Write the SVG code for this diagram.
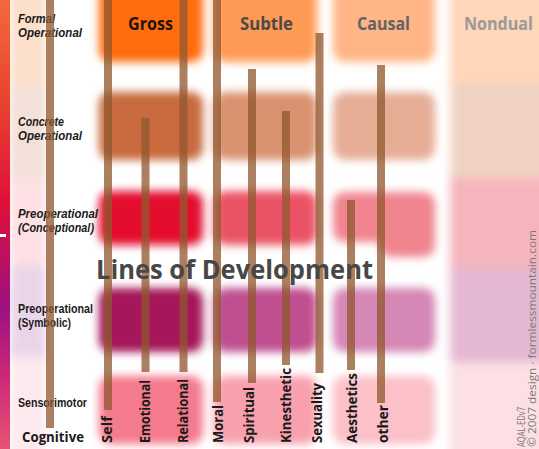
<svg xmlns="http://www.w3.org/2000/svg" width="539" height="449" viewBox="0 0 539 449">
<defs>
<filter id="blur" filterUnits="userSpaceOnUse" x="-30" y="-30" width="600" height="510"><feGaussianBlur stdDeviation="4"/></filter>
<filter id="blur2" filterUnits="userSpaceOnUse" x="-30" y="-30" width="600" height="510"><feGaussianBlur stdDeviation="5"/></filter>
<linearGradient id="strip" x1="0" y1="0" x2="0" y2="1">
<stop offset="0" stop-color="#f2683c"/>
<stop offset="0.22" stop-color="#e94430"/>
<stop offset="0.45" stop-color="#e0103a"/>
<stop offset="0.68" stop-color="#9c1080"/>
<stop offset="0.85" stop-color="#d02a78"/>
<stop offset="1" stop-color="#e65474"/>
</linearGradient>
<style>
.bar{fill:#90582f;opacity:0.76}
.hdr{font-family:"Open Sans","Liberation Sans",sans-serif;font-size:17px;font-weight:700}
.row{font-family:"Liberation Sans","Open Sans",sans-serif;font-size:12px;font-weight:700;fill:#1a1a1a}
.it{font-style:italic}
.lbl{font-family:"Open Sans","Liberation Sans",sans-serif;font-size:14px;font-weight:700;fill:#1a1a1a}
.foot{font-family:"Open Sans","Liberation Sans",sans-serif;font-size:10.5px;font-weight:400;fill:#7a7a7a}
</style>
</defs>
<rect width="539" height="449" fill="#ffffff"/>
<g id="bands" filter="url(#blur2)">
<rect x="10" y="-20" width="36" height="105" fill="#fde0cc"/>
<rect x="10" y="85" width="36" height="93" fill="#f3e0d8"/>
<rect x="10" y="178" width="36" height="89" fill="#fde0e4"/>
<rect x="10" y="267" width="36" height="90" fill="#e9d4ea"/>
<rect x="10" y="357" width="36" height="110" fill="#fdeaee"/>
<rect x="450" y="-20" width="110" height="103" fill="#ffd6b8"/>
<rect x="450" y="83" width="110" height="95" fill="#f0d3c4"/>
<rect x="450" y="178" width="110" height="90" fill="#f6b5bd"/>
<rect x="450" y="268" width="110" height="94" fill="#e4b8d2"/>
<rect x="450" y="362" width="110" height="110" fill="#fde0e3"/>
</g>
<g id="blobs" filter="url(#blur)">
<rect x="99" y="-30" width="104" height="92" rx="12" fill="#ff6c0c"/>
<rect x="214" y="-30" width="103" height="92" rx="12" fill="#ff9a55"/>
<rect x="333" y="-30" width="102" height="92" rx="12" fill="#ffb585"/>
<rect x="99" y="92" width="104" height="68" rx="12" fill="#c86a3c"/>
<rect x="214" y="92" width="103" height="68" rx="12" fill="#d99270"/>
<rect x="333" y="92" width="102" height="68" rx="12" fill="#e6ad95"/>
<rect x="99" y="191" width="104" height="54" rx="12" fill="#e4102e"/>
<rect x="214" y="191" width="103" height="54" rx="12" fill="#ea5265"/>
<rect x="333" y="192" width="102" height="50" rx="12" fill="#f0848f"/>
<rect x="380" y="205" width="55" height="52" rx="12" fill="#f0848f"/>
<rect x="99" y="288" width="104" height="64" rx="12" fill="#a5125a"/>
<rect x="214" y="288" width="103" height="64" rx="12" fill="#c05090"/>
<rect x="333" y="288" width="102" height="64" rx="12" fill="#d486b5"/>
<rect x="99" y="376" width="104" height="68" rx="12" fill="#f47a8e"/>
<rect x="214" y="376" width="103" height="68" rx="12" fill="#f8a0ae"/>
<rect x="333" y="376" width="102" height="68" rx="12" fill="#fcc0c8"/>
</g>
<g id="strip">
<rect x="0" y="0" width="10" height="449" fill="url(#strip)"/>
<rect x="0" y="234" width="6" height="3" fill="#ffffff"/>
</g>
<g id="headers">
<text class="hdr" x="128" y="30" textLength="45" lengthAdjust="spacingAndGlyphs" fill="#1e140e">Gross</text>
<text class="hdr" x="240" y="30" textLength="53" lengthAdjust="spacingAndGlyphs" fill="#4a4a4a" font-weight="600">Subtle</text>
<text class="hdr" x="357" y="30" textLength="53" lengthAdjust="spacingAndGlyphs" fill="#636363" font-weight="600">Causal</text>
<text class="hdr" x="464" y="30" textLength="69" lengthAdjust="spacingAndGlyphs" fill="#9a9a9a" font-weight="600">Nondual</text>
</g>
<g id="row-labels">
<text class="row it" x="18" y="23" textLength="37" lengthAdjust="spacingAndGlyphs">Formal</text>
<text class="row it" x="18" y="37" textLength="64" lengthAdjust="spacingAndGlyphs">Operational</text>
<text class="row it" x="18" y="126" textLength="46" lengthAdjust="spacingAndGlyphs">Concrete</text>
<text class="row it" x="18" y="140" textLength="64" lengthAdjust="spacingAndGlyphs">Operational</text>
<text class="row it" x="18" y="218" textLength="80" lengthAdjust="spacingAndGlyphs">Preoperational</text>
<text class="row it" x="18" y="232" textLength="76" lengthAdjust="spacingAndGlyphs">(Conceptional)</text>
<text class="row" x="18" y="313" textLength="75" lengthAdjust="spacingAndGlyphs">Preoperational</text>
<text class="row" x="18" y="327" textLength="53" lengthAdjust="spacingAndGlyphs">(Symbolic)</text>
<text class="row" x="18" y="407" textLength="69" lengthAdjust="spacingAndGlyphs">Sensorimotor</text>
<text class="lbl" x="22" y="442" font-size="14.5" textLength="62" lengthAdjust="spacingAndGlyphs">Cognitive</text>
</g>
<g id="lines">
<rect class="bar" x="46" y="0" width="8" height="428"/>
<rect class="bar" x="104" y="0" width="8" height="410"/>
<rect class="bar" x="141.5" y="118" width="8" height="254"/>
<rect class="bar" x="179.5" y="0" width="8" height="372"/>
<rect class="bar" x="213" y="0" width="8" height="402"/>
<rect class="bar" x="248" y="69" width="8" height="314"/>
<rect class="bar" x="282" y="111" width="8" height="254"/>
<rect class="bar" x="315.5" y="33" width="8" height="340"/>
<rect class="bar" x="347" y="200" width="8" height="170"/>
<rect class="bar" x="377" y="65" width="8" height="338"/>
</g>
<text id="title" x="96" y="279" font-family="'Open Sans','Liberation Sans',sans-serif" font-size="27" font-weight="700" fill="#474747" textLength="277" lengthAdjust="spacingAndGlyphs">Lines of Development</text>
<g id="line-labels">
<text class="lbl" transform="translate(112,443) rotate(-90)" textLength="27" lengthAdjust="spacingAndGlyphs">Self</text>
<text class="lbl" transform="translate(150,443) rotate(-90)" textLength="63" lengthAdjust="spacingAndGlyphs">Emotional</text>
<text class="lbl" transform="translate(188,443) rotate(-90)" textLength="64" lengthAdjust="spacingAndGlyphs">Relational</text>
<text class="lbl" transform="translate(223,443) rotate(-90)" textLength="38" lengthAdjust="spacingAndGlyphs">Moral</text>
<text class="lbl" transform="translate(254,443) rotate(-90)" textLength="56" lengthAdjust="spacingAndGlyphs">Spiritual</text>
<text class="lbl" transform="translate(291,443) rotate(-90)" textLength="75" lengthAdjust="spacingAndGlyphs">Kinesthetic</text>
<text class="lbl" transform="translate(322,443) rotate(-90)" textLength="60" lengthAdjust="spacingAndGlyphs">Sexuality</text>
<text class="lbl" transform="translate(357,443) rotate(-90)" textLength="70" lengthAdjust="spacingAndGlyphs">Aesthetics</text>
<text class="lbl" transform="translate(388,443) rotate(-90)" textLength="38" lengthAdjust="spacingAndGlyphs">other</text>
</g>
<g id="footer">
<text class="foot" transform="translate(525,447) rotate(-90)" textLength="40" lengthAdjust="spacingAndGlyphs">AQAL-EDv7</text>
<text class="foot" transform="translate(536,447) rotate(-90)" textLength="217" lengthAdjust="spacingAndGlyphs">© 2007 design  ·  formlessmountain.com</text>
</g>
</svg>
